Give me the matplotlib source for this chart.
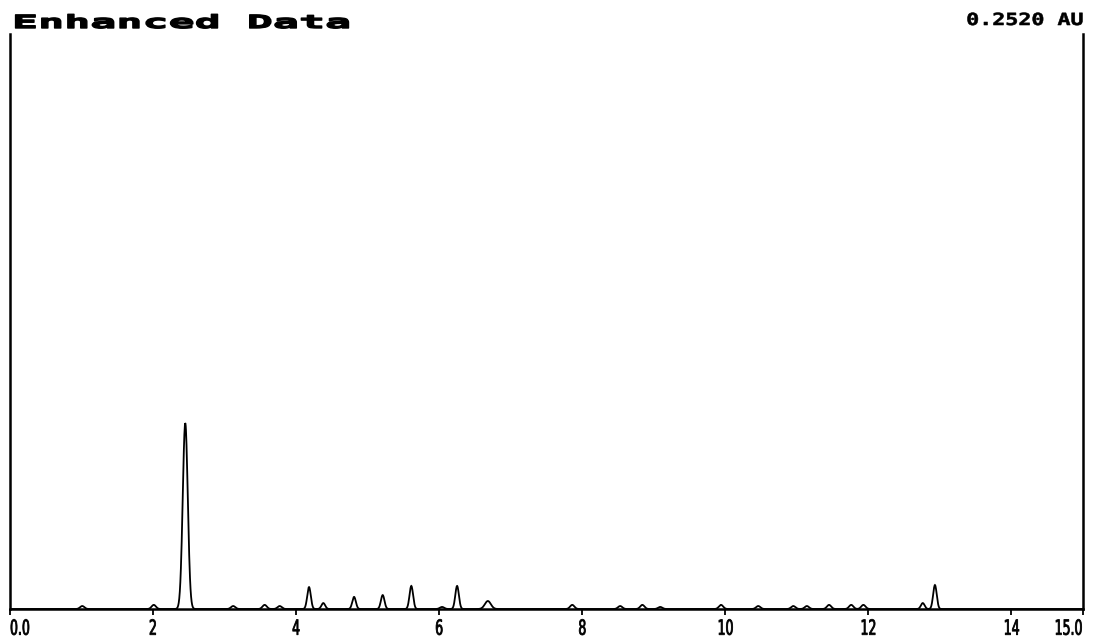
import numpy as np
import matplotlib
matplotlib.use("Agg")
import matplotlib.pyplot as plt
from matplotlib.patheffects import AbstractPathEffect
from matplotlib.transforms import Affine2D

# peak table: retention time (min), apex absorbance (AU), peak sigma (min)
peak_rt = [1.01, 2.01, 2.45, 3.12, 3.56, 3.77, 4.18, 4.38, 4.81, 5.21, 5.61, 6.04, 6.25,
           6.68, 7.86, 8.53, 8.84, 9.09, 9.94, 10.46, 10.95, 11.14, 11.45, 11.76, 11.93,
           12.76, 12.93]
peak_au = [0.0013, 0.0018, 0.0815, 0.0013, 0.0018, 0.0013, 0.0096, 0.0026, 0.0053, 0.0061,
           0.0101, 0.0009, 0.0101, 0.0035, 0.0018, 0.0013, 0.0018, 0.0009, 0.0018, 0.0013,
           0.0013, 0.0013, 0.0018, 0.0018, 0.0018, 0.0026, 0.0105]
peak_sd = [0.030, 0.030, 0.035, 0.030, 0.030, 0.030, 0.025, 0.026, 0.025, 0.025,
           0.025, 0.030, 0.025, 0.042, 0.030, 0.030, 0.030, 0.030, 0.030, 0.030,
           0.030, 0.030, 0.030, 0.030, 0.030, 0.026, 0.025]

full_scale = 0.2520
tick_pos = [0, 2, 4, 6, 8, 10, 12, 14, 15]
tick_txt = ["0.0", "2", "4", "6", "8", "10", "12", "14", "15.0"]


class Widen(AbstractPathEffect):
    """Stretch glyphs sideways around the left, centre or right of the string,
    optionally thickening them with an outline."""
    def __init__(self, sx, anchor="left", stroke=0.0):
        super().__init__()
        self.sx = sx
        self.anchor = anchor
        self.stroke = stroke

    def draw_path(self, renderer, gc, tpath, affine, rgbFace=None):
        ext = tpath.get_extents()
        px = {"left": 0.0, "center": (ext.x0 + ext.x1) / 2, "right": ext.x1}[self.anchor]
        squeeze = Affine2D().translate(-px, 0).scale(self.sx, 1).translate(px, 0)
        gc0 = renderer.new_gc()
        gc0.copy_properties(gc)
        if self.stroke:
            gc0.set_linewidth(self.stroke)
            gc0.set_foreground(rgbFace)
        renderer.draw_path(gc0, tpath, squeeze + affine, rgbFace)
        gc0.restore()


t = np.linspace(0, 15, 4001)
signal = np.zeros_like(t)
for rt, h, sd in zip(peak_rt, peak_au, peak_sd):
    signal += h * np.exp(-0.5 * ((t - rt) / sd) ** 2)

fig = plt.figure(figsize=(10.93, 6.4), dpi=100)
ax = fig.add_axes([10 / 1093, 31 / 640, 1073 / 1093, 575 / 640])

ax.plot(t, signal, color="black", lw=1.3, solid_joinstyle="miter")

ax.set_xlim(0, 15)
ax.set_ylim(0, full_scale)
ax.spines["top"].set_visible(False)
for side in ("left", "right", "bottom"):
    ax.spines[side].set_linewidth(1.8)
ax.set_yticks([])
ax.set_xticks(tick_pos, tick_txt)
ax.tick_params(axis="x", direction="out", length=4, width=1.3, pad=3)

labels = ax.get_xticklabels()
for i, lab in enumerate(labels):
    lab.set_fontfamily("DejaVu Sans")
    lab.set_fontsize(15)
    if i == 0:
        lab.set_horizontalalignment("left")
        lab.set_path_effects([Widen(0.6, "left", 0.6)])
    elif i == len(labels) - 1:
        lab.set_horizontalalignment("right")
        lab.set_path_effects([Widen(0.6, "right", 0.6)])
    else:
        lab.set_path_effects([Widen(0.6, "center", 0.6)])

title = fig.text(12 / 1093, 1 - 28 / 640, "Enhanced Data", ha="left", va="baseline",
                 fontfamily="DejaVu Sans Mono", fontweight="bold", fontsize=13)
title.set_path_effects([Widen(2.4, "left", 1.0)])

scale = fig.text(1083 / 1093, 1 - 25 / 640, "0.2520 AU", ha="right", va="baseline",
                 fontfamily="DejaVu Sans Mono", fontweight="bold", fontsize=12)
scale.set_path_effects([Widen(1.3, "right", 0.4)])

fig.savefig("out.png", dpi=100)
